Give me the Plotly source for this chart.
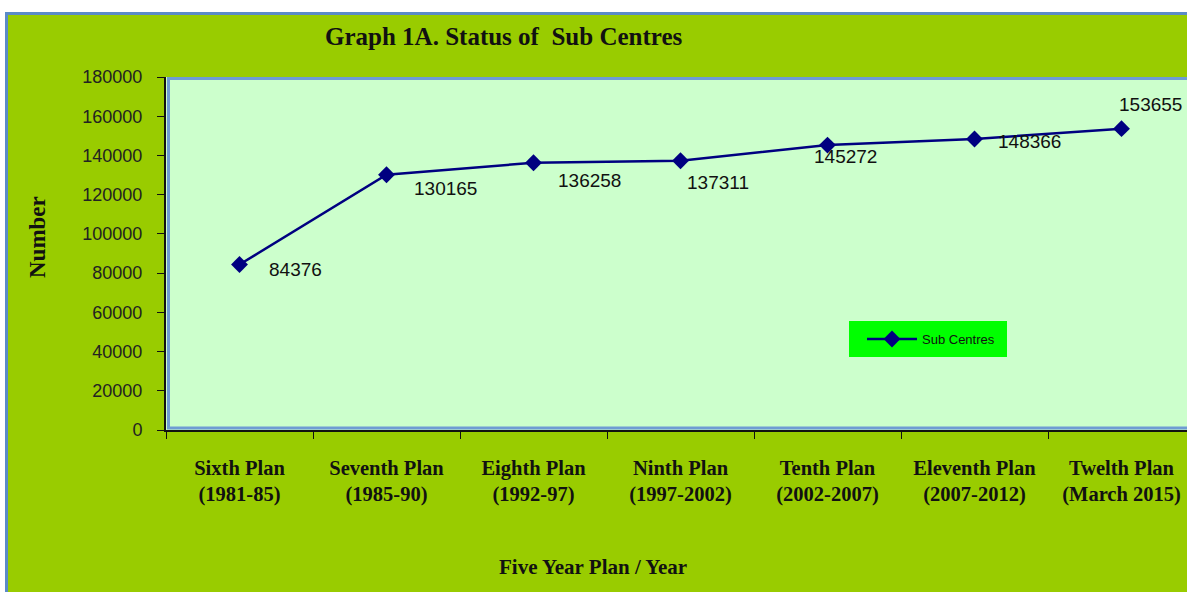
import plotly.graph_objects as go

plans = ["Sixth Plan<br>(1981-85)", "Seventh Plan<br>(1985-90)", "Eighth Plan<br>(1992-97)",
         "Ninth Plan<br>(1997-2002)", "Tenth Plan<br>(2002-2007)", "Eleventh Plan<br>(2007-2012)",
         "Twelth Plan<br>(March 2015)"]
sub_centres = [84376, 130165, 136258, 137311, 145272, 148366, 153655]
y_ticks = [0, 20000, 40000, 60000, 80000, 100000, 120000, 140000, 160000, 180000]

# label offsets (pixels) for the data labels
label_dx = [56, 59, 56, 37, 18, 55, 29]
label_dy = [-5, -14, -18, -22, -11, -2, 24]

W, H = 1187, 592
L, R, T, B = 166, 1187, 77, 430

def px(x):
    return (x - L) / (R - L)

def py(y):
    return (B - y) / (B - T)

GREEN = "#99CC00"
PLOT_BG = "#CCFFCC"
BLUE = "#5B8BC8"
NAVY = "#000080"
SERIF = "Liberation Serif, Times New Roman, serif"
SANS = "Liberation Sans, Arial, sans-serif"

fig = go.Figure()
fig.add_trace(go.Scatter(
    x=plans, y=sub_centres, mode="lines+markers", name="Sub Centres",
    line=dict(color=NAVY, width=2.5),
    marker=dict(symbol="diamond", size=13, color=NAVY),
))

annotations = []
for xv, yv, dx, dy in zip(plans, sub_centres, label_dx, label_dy):
    annotations.append(dict(x=xv, y=yv, text=str(yv), showarrow=False,
                            xshift=dx, yshift=dy,
                            font=dict(family=SANS, size=19, color="#111111")))

annotations += [
    dict(x=px(503), y=py(36), xref="paper", yref="paper", showarrow=False,
         xanchor="center", yanchor="middle",
         text="<b>Graph 1A. Status of  Sub Centres</b>",
         font=dict(family=SERIF, size=25, color="#111111")),
    dict(x=px(37), y=py(237), xref="paper", yref="paper", showarrow=False,
         xanchor="center", yanchor="middle",
         text="<b>Number</b>", textangle=-90,
         font=dict(family=SERIF, size=23, color="#111111")),
    dict(x=px(593), y=py(567), xref="paper", yref="paper", showarrow=False,
         xanchor="center", yanchor="middle",
         text="<b>Five Year Plan / Year</b>",
         font=dict(family=SERIF, size=21, color="#111111")),
]

shapes = [
    # white strips at top/left
    dict(type="rect", xref="paper", yref="paper", x0=px(-10), x1=px(1300), y0=py(12), y1=py(-10),
         fillcolor="white", line=dict(width=0), layer="below"),
    dict(type="rect", xref="paper", yref="paper", x0=px(-10), x1=px(5), y0=py(700), y1=py(-10),
         fillcolor="white", line=dict(width=0), layer="below"),
    # outer blue border
    dict(type="rect", xref="paper", yref="paper", x0=px(6.5), x1=px(1300), y0=py(700), y1=py(13.5),
         fillcolor="rgba(0,0,0,0)", line=dict(color=BLUE, width=3), layer="below"),
    # plot-area blue border
    dict(type="rect", xref="paper", yref="paper", x0=px(168.5), x1=px(1300), y0=py(428), y1=py(78.5),
         fillcolor="rgba(0,0,0,0)", line=dict(color="#6E9CD3", width=3), layer="above"),
    # legend box
    dict(type="rect", xref="paper", yref="paper", x0=px(849), x1=px(1007), y0=py(357), y1=py(321),
         fillcolor="#00FF00", line=dict(width=0), layer="above"),
]

fig.update_layout(
    width=W, height=H, autosize=False,
    margin=dict(l=L, r=W - R, t=T, b=H - B, pad=0),
    paper_bgcolor=GREEN, plot_bgcolor=PLOT_BG,
    showlegend=True,
    legend=dict(x=px(862), y=py(339), xanchor="left", yanchor="middle",
                bgcolor="rgba(0,0,0,0)", borderwidth=0, itemwidth=50,
                font=dict(family=SANS, size=13, color="#111111")),
    annotations=annotations,
    shapes=shapes,
    xaxis=dict(type="category", range=[-0.5, -0.5 + (R - L) / 147.0],
               showgrid=False, zeroline=False,
               showline=True, linecolor="#111111", linewidth=2,
               ticks="outside", tickson="boundaries", ticklen=7, tickcolor="#111111", tickwidth=1,
               ticklabelstandoff=18,
               tickfont=dict(family=SERIF, size=20.5, color="#111111", weight="bold")),
    yaxis=dict(range=[0, 180000], tickvals=y_ticks, tickformat="d",
               showgrid=False, zeroline=False,
               showline=True, linecolor="#111111", linewidth=2,
               ticks="outside", ticklen=7, tickcolor="#111111", tickwidth=1,
               ticklabelstandoff=11,
               tickfont=dict(family=SANS, size=18, color="#222222")),
)

fig.write_html("out.html", config={"displayModeBar": False},
               post_script="document.body.style.margin='0';document.body.style.padding='0';"
                           "document.documentElement.style.overflow='hidden';")
